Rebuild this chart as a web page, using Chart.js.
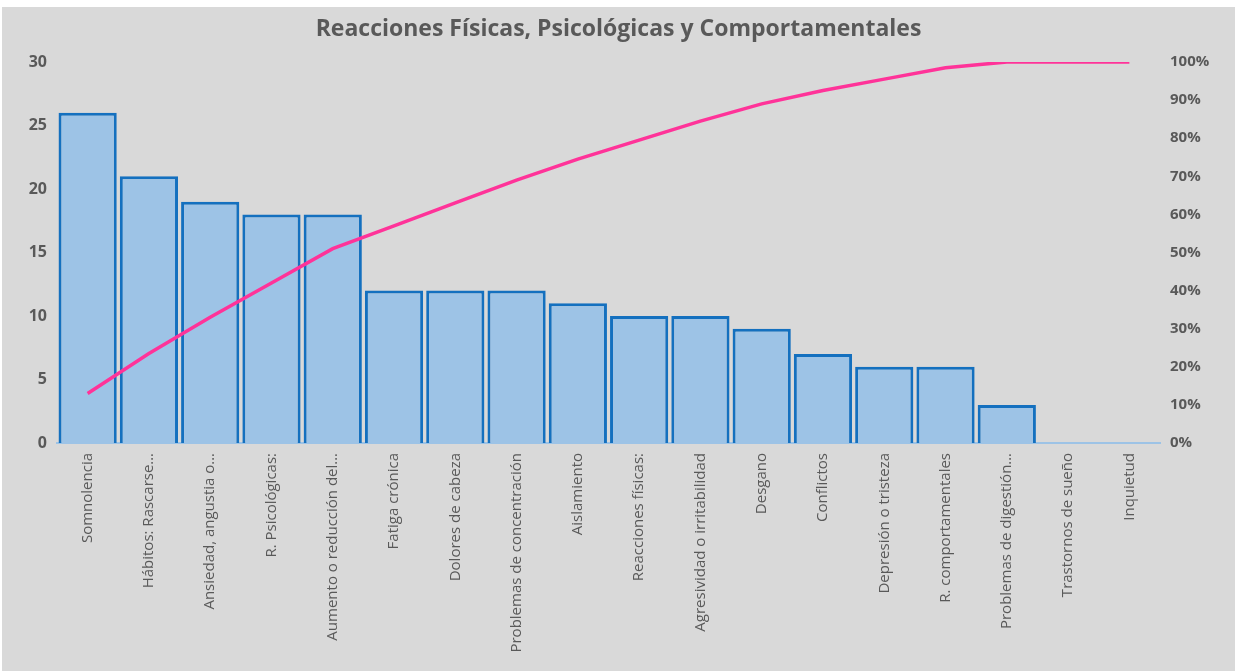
<!DOCTYPE html>
<html>
<head>
<meta charset="utf-8">
<script src="https://cdn.jsdelivr.net/npm/chart.js@4"></script>
<style>
  html, body { margin: 0; padding: 0; background: #ffffff; }
  #wrap { position: absolute; left: 2px; top: 7px; width: 1233px; height: 664px; background: #d9d9d9; }
  canvas { display: block; }
</style>
</head>
<body>
<div id="wrap"><canvas id="c" width="1233" height="664"></canvas></div>
<script>
const categories = [
  "Somnolencia",
  "Hábitos: Rascarse…",
  "Ansiedad, angustia o…",
  "R. Psicológicas:",
  "Aumento o reducción del…",
  "Fatiga crónica",
  "Dolores de cabeza",
  "Problemas de concentración",
  "Aislamiento",
  "Reacciones físicas:",
  "Agresividad o irritabilidad",
  "Desgano",
  "Conflictos",
  "Depresión o tristeza",
  "R. comportamentales",
  "Problemas de digestión…",
  "Trastornos de sueño",
  "Inquietud"
];
const counts = [26, 21, 19, 18, 18, 12, 12, 12, 11, 10, 10, 9, 7, 6, 6, 3, 0, 0];
const cumulativePct = [13, 23.5, 33, 42, 51, 57, 63, 69, 74.5, 79.5, 84.5, 89, 92.5, 95.5, 98.5, 100, 100, 100];
const leftTicks = [0, 5, 10, 15, 20, 25, 30];
const rightTicks = [0, 10, 20, 30, 40, 50, 60, 70, 80, 90, 100];
const titleText = "Reacciones Físicas, Psicológicas y Comportamentales";

const textColor = "#595959";
const fontFam = "'Open Sans', 'DejaVu Sans', sans-serif";

new Chart(document.getElementById('c'), {
  type: 'bar',
  data: {
    labels: categories,
    datasets: [
      {
        type: 'line',
        data: cumulativePct,
        yAxisID: 'y1',
        borderColor: '#ff3399',
        borderWidth: 3.5,
        pointRadius: 0,
        tension: 0,
        fill: false,
        order: 0
      },
      {
        type: 'bar',
        data: counts,
        yAxisID: 'y',
        backgroundColor: '#9dc3e6',
        borderColor: '#1470bf',
        borderWidth: 3,
        categoryPercentage: 1.0,
        barPercentage: 0.95,
        order: 1
      }
    ]
  },
  options: {
    responsive: false,
    animation: false,
    layout: { padding: { left: 0, right: 0, top: 0, bottom: 0 } },
    plugins: {
      legend: { display: false },
      tooltip: { enabled: false },
      title: {
        display: true,
        text: titleText,
        color: textColor,
        font: { family: fontFam, size: 23, weight: 'bold', lineHeight: 1.2 },
        padding: { top: 9, bottom: 18.4 }
      }
    },
    scales: {
      x: {
        grid: { display: false, drawTicks: false },
        border: { display: true, color: '#9dc3e6', width: 2 },
        ticks: {
          color: textColor,
          font: { family: fontFam, size: 15 },
          minRotation: 90,
          maxRotation: 90,
          autoSkip: false,
          padding: 10
        },
        afterFit: (s) => { s.height = 228; }
      },
      y: {
        position: 'left',
        min: 0,
        max: 30,
        grid: { display: false, drawTicks: false },
        border: { display: false },
        afterBuildTicks: (s) => { s.ticks = leftTicks.map(v => ({ value: v })); },
        ticks: {
          color: textColor,
          font: { family: fontFam, size: 16, weight: 'bold' },
          padding: 10
        },
        afterFit: (s) => { s.width = 55; }
      },
      y1: {
        position: 'right',
        min: 0,
        max: 100,
        grid: { display: false, drawTicks: false },
        border: { display: false },
        afterBuildTicks: (s) => { s.ticks = rightTicks.map(v => ({ value: v })); },
        ticks: {
          color: textColor,
          font: { family: fontFam, size: 15, weight: 'bold' },
          padding: 10,
          callback: (v) => v + '%'
        },
        afterFit: (s) => { s.width = 75; }
      }
    }
  }
});
</script>
</body>
</html>
